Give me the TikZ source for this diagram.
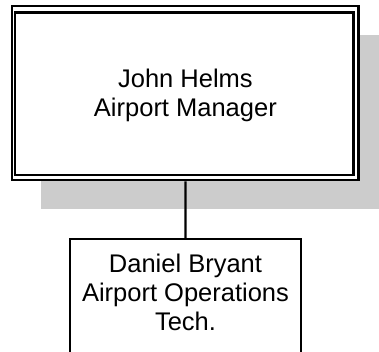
\documentclass[tikz,border=0pt]{standalone}
\usepackage{fontspec}
\setmainfont{Liberation Sans}
\begin{document}
\begin{tikzpicture}[x=1pt, y=-1pt,
  orgtext/.style={font=\fontsize{25.5}{29.2}\selectfont, align=center, inner sep=0pt, anchor=north},
  frame/.style={draw=black, line width=2.3pt, fill=white, inner sep=0pt},
  shadowbox/.style={fill=black!20, draw=none},
  link/.style={draw=black, line width=2.3pt}]
  \useasboundingbox (0,0) rectangle (379,351);
  \clip (0,0) rectangle (379,351);

  % drop shadow behind the manager box
  \fill[shadowbox] (41.3,35.2) rectangle (387.5,209.2);

  % manager box: outer frame with a second frame drawn inside it
  \node[frame, minimum width=346.2pt, minimum height=174pt]
    (mgr) at (185.4,93.2) {};
  \draw[line width=2.3pt] ([shift={(3.9pt,-7.3pt)}]mgr.north west)
    rectangle ([shift={(-6.3pt,6.4pt)}]mgr.south east);
  \node[orgtext] (mgrtext) at (185.4,68.6) {John Helms\\Airport Manager};

  % technician box, running past the lower edge
  \node[frame, anchor=north, minimum width=230.5pt, minimum height=140pt]
    (tech) at (185.5,238) {};
  \node[orgtext] (techtext) at (185.5,253.8)
    {Daniel Bryant\\Airport Operations\\Tech.};

  % reporting line
  \draw[link] (mgr.south) -- (tech.north);
\end{tikzpicture}
\end{document}
